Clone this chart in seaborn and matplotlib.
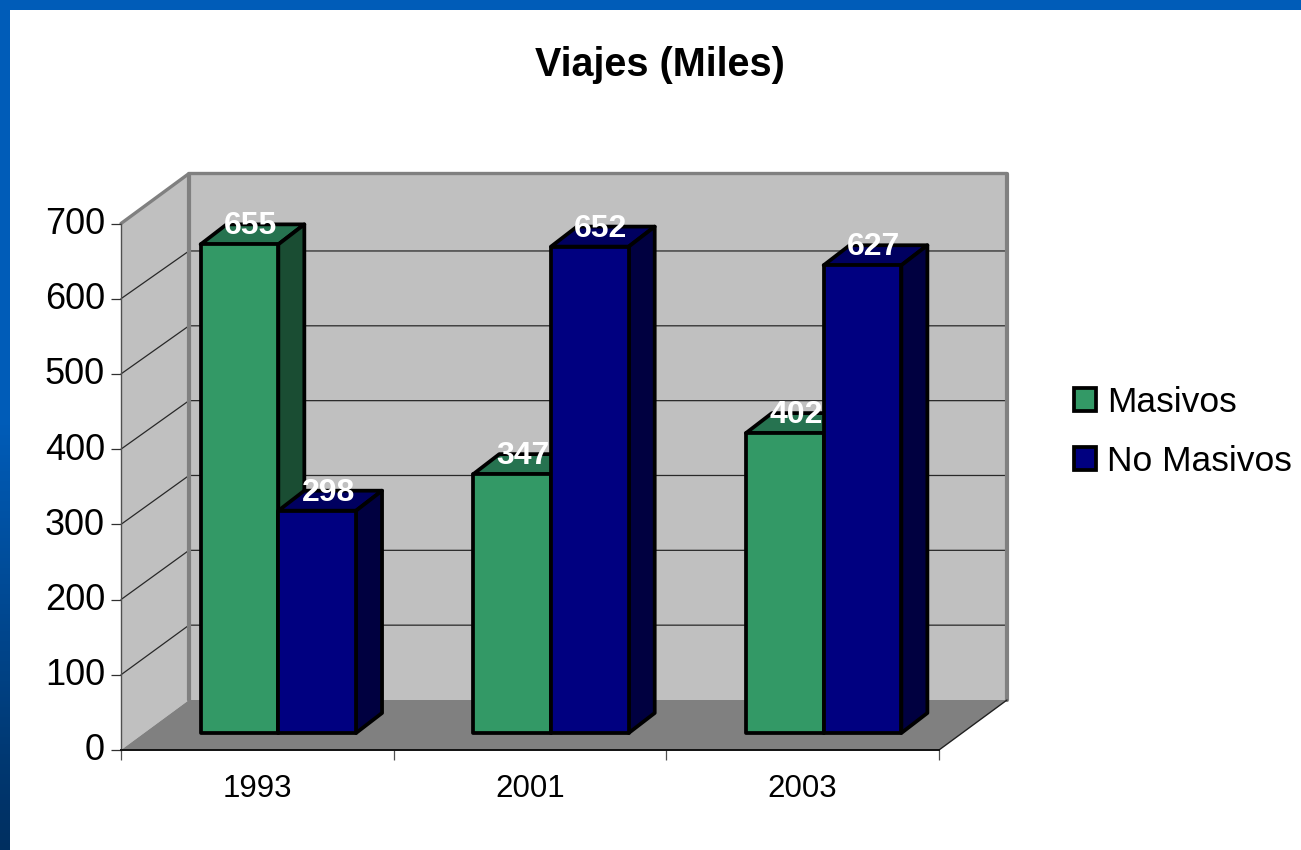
import numpy as np
import pandas as pd
import matplotlib.pyplot as plt
import matplotlib.transforms as mtrans
import seaborn as sns
from matplotlib.colors import LinearSegmentedColormap
from matplotlib.patches import Polygon, Patch

sns.set_style("white")
plt.rcParams['font.family'] = ['Liberation Sans', 'DejaVu Sans']
plt.rcParams['text.color'] = 'black'
plt.rcParams['xtick.color'] = 'black'
plt.rcParams['ytick.color'] = 'black'

# data
years = ['1993', '2001', '2003']
masivos = [655, 347, 402]
no_masivos = [298, 652, 627]
series_names = ['Masivos', 'No Masivos']
y_ticks = [0, 100, 200, 300, 400, 500, 600, 700]

df = pd.DataFrame({'year': years * 2,
                   'serie': [series_names[0]] * 3 + [series_names[1]] * 3,
                   'viajes': masivos + no_masivos})

W, H = 1301, 850
GREEN, NAVY = '#339966', '#000080'
GREEN_TOP, GREEN_SIDE = '#267350', '#1a4d33'
NAVY_TOP, NAVY_SIDE = '#000060', '#000040'
EDGE_W = 2.7


def px_axes(fig, left, top, right, bottom):
    return fig.add_axes([left / W, 1 - bottom / H, (right - left) / W, (bottom - top) / H])


fig = plt.figure(figsize=(W / 100, H / 100), dpi=100, facecolor='white')

# blue frame of the slide
ax_top = px_axes(fig, 0, 0, W, 10)
ax_top.axis('off')
ax_top.add_patch(plt.Rectangle((0, 0), 1, 1, color='#005cb8', transform=ax_top.transAxes))
ax_left = px_axes(fig, 0, 0, 10, H)
ax_left.imshow(np.linspace(0, 1, 256).reshape(-1, 1), aspect='auto',
               cmap=LinearSegmentedColormap.from_list('frame', ['#005cb8', '#005cb8', '#002f60']))
ax_left.axis('off')

# front plane of the chart box
ax = px_axes(fig, 121, 223.5, 939, 750)
ax.set_xlim(-0.5, 2.5)
ax.set_ylim(0, 700)
ax.patch.set_visible(False)
dx, dy = 68 / (818 / 3), 50 / (526.5 / 700)
x0, x1 = -0.5, 2.5

ax.add_patch(Polygon([(x0, 0), (x0 + dx, dy), (x0 + dx, 700 + dy), (x0, 700)],
                     fc='#c0c0c0', ec='none', clip_on=False, zorder=0))
ax.add_patch(Polygon([(x0 + dx, dy), (x1 + dx, dy), (x1 + dx, 700 + dy), (x0 + dx, 700 + dy)],
                     fc='#c0c0c0', ec='none', clip_on=False, zorder=0))
ax.add_patch(Polygon([(x0, 0), (x1, 0), (x1 + dx, dy), (x0 + dx, dy)],
                     fc='#808080', ec='none', clip_on=False, zorder=0.1))

for v in y_ticks[1:-1]:
    ax.plot([x0, x0 + dx, x1 + dx], [v, v * 0.995 + dy, v * 0.995 + dy], color='#282828', lw=0.9,
            clip_on=False, zorder=0.2)

# wall borders
ax.plot([x0, x0 + dx, x1 + dx], [700, 700 + dy, 700 + dy], color='#808080', lw=2.4,
        clip_on=False, zorder=0.3, solid_joinstyle='miter')
ax.plot([x0 + dx, x0 + dx], [dy, 700 + dy], color='#808080', lw=3, clip_on=False, zorder=0.3)
ax.plot([x1 + dx, x1 + dx], [dy, 700 + dy], color='#808080', lw=3, clip_on=False, zorder=0.3)
ax.plot([x1, x1 + dx], [0, dy], color='#202020', lw=1.0, clip_on=False, zorder=0.3)

for s in ['top', 'right']:
    ax.spines[s].set_visible(False)
ax.spines['left'].set_color('#505050')
ax.spines['left'].set_linewidth(1.0)
ax.spines['bottom'].set_color('#101010')
ax.spines['bottom'].set_linewidth(1.4)

ax.set_yticks(y_ticks)
ax.set_xticks([0, 1, 2])
ax.set_xticklabels(years)
ax.set_xticks([-0.5, 0.5, 1.5, 2.5], minor=True)
ax.tick_params(axis='y', left=True, length=7, width=0.9, color='#303030', pad=4.5, labelsize=26)
ax.tick_params(axis='x', which='major', bottom=False, labelsize=22.5, pad=14)
ax.tick_params(axis='x', which='minor', bottom=True, length=7, width=0.9, color='#505050')
ax.set_xlabel('')
ax.set_ylabel('')
lift = mtrans.ScaledTranslation(0, 3 / 100, fig.dpi_scale_trans)
for lab in ax.get_yticklabels():
    lab.set_transform(lab.get_transform() + lift)

# bars sit a bit behind the front plane
ax_b = px_axes(fig, 142, 733 - 0.746 * 700, 960, 733)
ax_b.patch.set_visible(False)
sns.barplot(data=df, x='year', y='viajes', hue='serie', order=years, hue_order=series_names,
            palette=[GREEN, NAVY], saturation=1, width=0.57, gap=0, legend=False,
            edgecolor='black', linewidth=EDGE_W, ax=ax_b)
ax_b.set_xlim(-0.5, 2.5)
ax_b.set_ylim(0, 700)
ax_b.axis('off')

bar_dx, bar_dy = 26 / (818 / 3), 20 / 0.746
n = len(years)
for i, bar in enumerate(list(ax_b.patches)):
    first = i < n
    top_c, side_c = (GREEN_TOP, GREEN_SIDE) if first else (NAVY_TOP, NAVY_SIDE)
    z = 0.5 if first else 0.7
    x, w, h = bar.get_x(), bar.get_width(), bar.get_height()
    ax_b.add_patch(Polygon([(x, h), (x + w, h), (x + w + bar_dx, h + bar_dy), (x + bar_dx, h + bar_dy)],
                           fc=top_c, ec='black', lw=EDGE_W, clip_on=False, zorder=z,
                           joinstyle='round'))
    ax_b.add_patch(Polygon([(x + w, 0), (x + w + bar_dx, bar_dy), (x + w + bar_dx, h + bar_dy), (x + w, h)],
                           fc=side_c, ec='black', lw=EDGE_W, clip_on=False, zorder=z,
                           joinstyle='round'))
    bar.set_zorder(1)
    bar.set_clip_on(False)
    bar.set_joinstyle('round')
    ax_b.annotate(f'{int(h)}', (x + w / 2, h), xytext=(8, 13), textcoords='offset points',
                  ha='center', va='center', color='white', fontsize=23, fontweight='bold',
                  annotation_clip=False, zorder=3)

fig.text(660 / W, 1 - 65 / H, 'Viajes (Miles)', ha='center', va='center', fontsize=28.5,
         fontweight='bold', color='black')

handles = [Patch(fc=GREEN, ec='black', lw=EDGE_W), Patch(fc=NAVY, ec='black', lw=EDGE_W)]
fig.legend(handles, series_names, loc='center left', bbox_to_anchor=(1060 / W, 1 - 432 / H),
           frameon=False, fontsize=25.5, labelspacing=0.75, handlelength=0.62, handleheight=0.62,
           handletextpad=0.3, borderpad=0, borderaxespad=0.4)

plt.savefig('out.png', dpi=100)
